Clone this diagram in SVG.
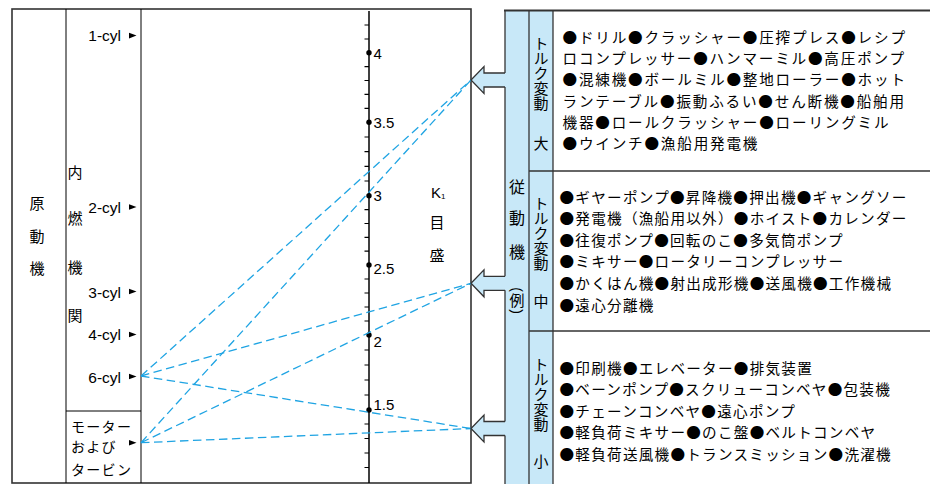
<svg xmlns="http://www.w3.org/2000/svg" width="930" height="484" viewBox="0 0 930 484">
<style>
.jp{font-family:"Noto Sans CJK JP","Noto Sans",sans-serif;fill:#000}
.lat{font-family:"Liberation Sans",Arial,sans-serif;fill:#000}
.c{text-anchor:middle}
.frame{fill:none;stroke:#333;stroke-width:1.6}
.thin{fill:none;stroke:#000;stroke-width:1}
.blue{fill:#c8e8f8}
.bline{fill:none;stroke:#333;stroke-width:1.3}
.dash{fill:none;stroke:#1fa4e3;stroke-width:1.3;stroke-dasharray:8.5 4.5}
.tri{fill:#000}
.row{font-size:14.6px}
.vt{writing-mode:vertical-rl;font-size:15px}
</style>
<rect width="930" height="484" fill="#fff"/>

<g id="left-frame">
<rect class="frame" x="12" y="9" width="459" height="474"/>
<line class="thin" x1="66" y1="9" x2="66" y2="483"/>
<line class="thin" x1="141" y1="9" x2="141" y2="483"/>
<line class="thin" x1="66" y1="411" x2="141" y2="411"/>
</g>

<g id="prime-mover" class="jp c" font-size="15">
<text x="37" y="208.7">原</text>
<text x="37" y="241.7">動</text>
<text x="37" y="273.7">機</text>
</g>

<g id="ice" class="jp" font-size="15">
<text x="67.5" y="177.7">内</text>
<text x="67.5" y="223.7">燃</text>
<text x="67.5" y="272.7">機</text>
<text x="67.5" y="320.7">関</text>
</g>

<g id="cyl1"><text class="lat" x="121" y="40.5" font-size="15.5" text-anchor="end">1-cyl</text><polygon class="tri" points="129,32.8 136.5,35.6 129,38.4"/></g>
<g id="cyl2"><text class="lat" x="121" y="212.5" font-size="15.5" text-anchor="end">2-cyl</text><polygon class="tri" points="129,204.2 136.5,207 129,209.8"/></g>
<g id="cyl3"><text class="lat" x="121" y="297.5" font-size="15.5" text-anchor="end">3-cyl</text><polygon class="tri" points="129,288.7 136.5,291.5 129,294.3"/></g>
<g id="cyl4"><text class="lat" x="121" y="340" font-size="15.5" text-anchor="end">4-cyl</text><polygon class="tri" points="129,331.7 136.5,334.5 129,337.3"/></g>
<g id="cyl6"><text class="lat" x="121" y="383" font-size="15.5" text-anchor="end">6-cyl</text><polygon class="tri" points="129,373.7 136.5,376.5 129,379.3"/></g>

<g id="motor">
<g class="jp" font-size="14" letter-spacing="1.3">
<text x="71" y="432">モーター</text>
<text x="71" y="452">および</text>
<text x="71" y="475.3">タービン</text>
</g>
<polygon class="tri" points="129,440 136.5,442.8 129,445.6"/>
</g>

<g id="k1-scale">
<line x1="369" y1="11" x2="369" y2="483" stroke="#000" stroke-width="1.5"/>
<path stroke="#000" stroke-width="1.2" fill="none" d="M364.5 25H369M364.5 39H369M364.5 66.6H369M364.5 80.5H369M364.5 94.4H369M364.5 108.4H369M364.5 137H369M364.5 151.7H369M364.5 166.4H369M364.5 181H369M364.5 209.6H369M364.5 223.5H369M364.5 237.3H369M364.5 251.2H369M364.5 279H369M364.5 293H369M364.5 307H369M364.5 321H369M364.5 350H369M364.5 365H369M364.5 380H369M364.5 395H369M364.5 424H369M364.5 438.5H369M364.5 453H369M364.5 467.5H369"/>
<g fill="#000">
<circle cx="369" cy="52.7" r="2.7"/>
<circle cx="369" cy="122.3" r="2.7"/>
<circle cx="369" cy="195.7" r="2.7"/>
<circle cx="369" cy="265" r="2.7"/>
<circle cx="369" cy="335" r="2.7"/>
<circle cx="369" cy="410" r="2.7"/>
</g>
<g class="lat" font-size="15">
<text x="373.5" y="58.5">4</text>
<text x="373.5" y="128.3">3.5</text>
<text x="373.5" y="201.3">3</text>
<text x="373.5" y="273.5">2.5</text>
<text x="373.5" y="346.5">2</text>
<text x="373.5" y="409.5">1.5</text>
</g>
<text class="lat" x="431" y="197.5" font-size="15">K<tspan font-size="8" dy="1.5">1</tspan></text>
<text class="jp c" x="437" y="227.7" font-size="15">目</text>
<text class="jp c" x="437" y="260.7" font-size="15">盛</text>
</g>

<g id="connectors">
<line class="dash" x1="141" y1="376" x2="471" y2="80"/>
<line class="dash" x1="141" y1="442.7" x2="471" y2="80"/>
<line class="dash" x1="141" y1="376" x2="471" y2="283.3"/>
<line class="dash" x1="141" y1="442.7" x2="471" y2="283.3"/>
<line class="dash" x1="141" y1="376" x2="471" y2="428.5"/>
<line class="dash" x1="141" y1="442.7" x2="471" y2="428.5"/>
</g>

<g id="driven-column">
<rect class="blue" x="505" y="10" width="48" height="474"/>
<line class="bline" x1="505" y1="10" x2="505" y2="484"/>
<line class="bline" x1="529" y1="10" x2="529" y2="484"/>
<line class="bline" x1="553" y1="10" x2="553" y2="484"/>
<line x1="504" y1="10.5" x2="930" y2="10.5" stroke="#333" stroke-width="2"/>
<line class="bline" x1="529" y1="171" x2="930" y2="171"/>
<line class="bline" x1="529" y1="331" x2="930" y2="331"/>
<g class="jp c" font-size="16">
<text x="517" y="193">従</text>
<text x="517" y="224">動</text>
<text x="517" y="257.5">機</text>
<text x="517" y="305.5" font-size="15">例</text>
</g>
<text class="lat" font-size="14" text-anchor="middle" dominant-baseline="central" transform="translate(517,289.5) rotate(90)">(</text>
<text class="lat" font-size="14" text-anchor="middle" dominant-baseline="central" transform="translate(517,311.5) rotate(90)">)</text>
</g>

<g id="arrow-large">
<polygon class="blue" points="471,80 484,66.5 484,73 506,73 506,87 484,87 484,93.5"/>
<polyline class="bline" points="505,73 484,73 484,66.5 471,80 484,93.5 484,87 505,87"/>
</g>
<g id="arrow-medium">
<polygon class="blue" points="471,283.3 484,269.8 484,276.3 506,276.3 506,290.3 484,290.3 484,296.8"/>
<polyline class="bline" points="505,276.3 484,276.3 484,269.8 471,283.3 484,296.8 484,290.3 505,290.3"/>
</g>
<g id="arrow-small">
<polygon class="blue" points="471,428.5 484,415 484,421.5 506,421.5 506,435.5 484,435.5 484,442"/>
<polyline class="bline" points="505,421.5 484,421.5 484,415 471,428.5 484,442 484,435.5 505,435.5"/>
</g>

<g id="torque-large">
<text class="jp vt" x="541" y="35.5">トルク変動</text>
<text class="jp c" x="541" y="148.7" font-size="15">大</text>
<g class="jp row" letter-spacing="1.8">
<text x="562.5" y="42.6">●ドリル●クラッシャー●圧搾プレス●レシプ</text>
<text x="562.5" y="63.9">ロコンプレッサー●ハンマーミル●高圧ポンプ</text>
<text x="562.5" y="85.2">●混練機●ボールミル●整地ローラー●ホット</text>
<text x="562.5" y="106.5">ランテーブル●振動ふるい●せん断機●船舶用</text>
<text x="562.5" y="127.8">機器●ロールクラッシャー●ローリングミル</text>
<text x="562.5" y="149.1">●ウインチ●漁船用発電機</text>
</g>
</g>

<g id="torque-medium">
<text class="jp vt" x="541" y="195.5">トルク変動</text>
<text class="jp c" x="541" y="306.7" font-size="15">中</text>
<g class="jp row" letter-spacing="1.25">
<text x="559.5" y="202.5">●ギヤーポンプ●昇降機●押出機●ギャングソー</text>
<text x="559.5" y="224.1">●発電機（漁船用以外）●ホイスト●カレンダー</text>
<text x="559.5" y="245.7">●往復ポンプ●回転のこ●多気筒ポンプ</text>
<text x="559.5" y="267.3">●ミキサー●ロータリーコンプレッサー</text>
<text x="559.5" y="288.9">●かくはん機●射出成形機●送風機●工作機械</text>
<text x="559.5" y="310.5">●遠心分離機</text>
</g>
</g>

<g id="torque-small">
<text class="jp vt" x="541" y="356.5">トルク変動</text>
<text class="jp c" x="541" y="466.7" font-size="15">小</text>
<g class="jp row" letter-spacing="1.25">
<text x="559.5" y="373.8">●印刷機●エレベーター●排気装置</text>
<text x="559.5" y="395.3">●ベーンポンプ●スクリューコンベヤ●包装機</text>
<text x="559.5" y="416.8">●チェーンコンベヤ●遠心ポンプ</text>
<text x="559.5" y="438.3">●軽負荷ミキサー●のこ盤●ベルトコンベヤ</text>
<text x="559.5" y="459.8">●軽負荷送風機●トランスミッション●洗濯機</text>
</g>
</g>
</svg>
